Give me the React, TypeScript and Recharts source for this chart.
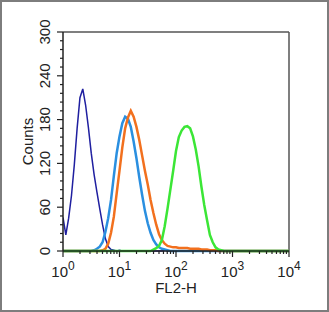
import { LineChart, Line, XAxis, YAxis, ReferenceLine } from "recharts";

const FONT = "'Liberation Sans', Arial, Helvetica, sans-serif";

// FL2-H channel centres (log spaced, 0.05 decade bins up to 10^3)
const channels = [
  1, 1.122, 1.259, 1.413, 1.585, 1.778, 1.995, 2.239, 2.512, 2.818,
  3.162, 3.548, 3.981, 4.467, 5.012, 5.623, 6.31, 7.079, 7.943, 8.913,
  10, 11.22, 12.59, 14.13, 15.85, 17.78, 19.95, 22.39, 25.12, 28.18,
  31.62, 35.48, 39.81, 44.67, 50.12, 56.23, 63.1, 70.79, 79.43, 89.13,
  100, 112.2, 125.9, 141.3, 158.5, 177.8, 199.5, 223.9, 251.2, 281.8,
  316.2, 354.8, 398.1, 446.7, 501.2, 562.3, 631, 707.9, 794.3, 891.3,
  1000, 3162, 10000,
];

const blankCounts = [
  46, 22, 45, 76, 118, 168, 210, 222, 200, 169,
  134, 105, 81, 58, 36, 17, 6, 2, 1, 0,
  1, 0, 0, 0, 0, 0, 0, 0, 0, 0,
  0, 0, 0, 0, 0, 0, 1, 0, 0, 0,
  0, 0, 0, 0, 0, 0, 0, 0, 0, 0,
  0, 0, 0, 0, 0, 0, 0, 0, 0, 0,
  0, 0, 0,
];

const isotypeCounts = [
  0, 0, 0, 0, 0, 0, 0, 0, 0, 0,
  0, 1, 3, 6, 12, 26, 45, 70, 103, 134,
  157, 175, 184, 181, 170, 150, 127, 101, 77, 55,
  38, 25, 15, 9, 5, 3, 2, 1, 0, 0,
  0, 0, 0, 0, 0, 0, 0, 0, 0, 0,
  0, 0, 0, 0, 0, 0, 0, 0, 0, 0,
  0, 0, 0,
];

const secondaryCounts = [
  0, 0, 0, 0, 0, 0, 0, 0, 0, 0,
  0, 0, 0, 0, 1, 3, 10, 25, 47, 79,
  110, 142, 168, 183, 192, 184, 170, 152, 131, 110,
  91, 70, 52, 36, 23, 15, 10, 7, 6, 5,
  5, 4, 4, 4, 4, 3, 3, 3, 3, 2,
  2, 2, 1, 1, 1, 0, 0, 0, 0, 0,
  0, 0, 0,
];

const antibodyCounts = [
  0, 0, 0, 0, 0, 0, 0, 0, 0, 0,
  0, 0, 0, 0, 0, 0, 0, 0, 0, 0,
  0, 0, 0, 0, 0, 0, 0, 0, 0, 0,
  0, 0, 2, 4, 7, 15, 34, 58, 84, 110,
  137, 156, 165, 170, 171, 168, 157, 139, 116, 88,
  63, 42, 22, 12, 5, 2, 1, 0, 0, 0,
  0, 0, 0,
];

const xTicks = [
  1, 2, 3, 4, 5, 6, 7, 8, 9,
  10, 20, 30, 40, 50, 60, 70, 80, 90,
  100, 200, 300, 400, 500, 600, 700, 800, 900,
  1000, 2000, 3000, 4000, 5000, 6000, 7000, 8000, 9000,
  10000,
];

const yTicks = [
  0, 12, 24, 36, 48, 60, 72, 84, 96, 108, 120, 132, 144,
  156, 168, 180, 192, 204, 216, 228, 240, 252, 264, 276, 288, 300,
];

const data = channels.map((channel, i) => ({
  channel,
  blank: blankCounts[i],
  isotype: isotypeCounts[i],
  secondary: secondaryCounts[i],
  antibody: antibodyCounts[i],
}));

function XTick(props: any) {
  const { x, y, payload } = props;
  const lg = Math.log10(payload.value);
  const exp = Math.round(lg);
  const major = Math.abs(lg - exp) < 1e-6;
  return (
    <g>
      <line x1={x} x2={x} y1={y} y2={y + (major ? 6 : 3)} stroke="#222" strokeWidth={1.2} />
      {major && (
        <text x={x} y={y + 26} textAnchor="middle" fontSize={15} fill="#222" fontFamily={FONT}>
          10
          <tspan fontSize={12} dy={-7}>
            {exp}
          </tspan>
        </text>
      )}
    </g>
  );
}

function YTick(props: any) {
  const { x, y, payload } = props;
  const v = payload.value;
  const major = v % 60 === 0;
  return (
    <g>
      <line x1={x - (major ? 6 : 3)} x2={x} y1={y} y2={y} stroke="#222" strokeWidth={1.2} />
      {major && (
        <text
          x={x - 13}
          y={y}
          transform={`rotate(-90 ${x - 13} ${y})`}
          textAnchor="middle"
          fontSize={15}
          fill="#222"
          fontFamily={FONT}
        >
          {v}
        </text>
      )}
    </g>
  );
}

export default function App() {
  return (
    <div style={{ position: "absolute", left: 0, top: 0, width: 329, height: 312, background: "#fff" }}>
      <LineChart
        width={329}
        height={312}
        data={data}
        margin={{ top: 32, right: 40, bottom: 16, left: 18 }}
      >
        <XAxis
          dataKey="channel"
          type="number"
          scale="log"
          domain={[1, 10000]}
          allowDataOverflow
          ticks={xTicks}
          interval={0}
          tick={<XTick />}
          tickLine={false}
          tickSize={0}
          tickMargin={0}
          height={45}
          stroke="#222"
          strokeWidth={1.5}
          label={{
            value: "FL2-H",
            position: "insideBottom",
            offset: 3,
            style: { fontSize: 15, fill: "#222", fontFamily: FONT },
          }}
        />
        <YAxis
          type="number"
          domain={[0, 300]}
          ticks={yTicks}
          interval={0}
          tick={<YTick />}
          tickLine={false}
          tickSize={0}
          tickMargin={0}
          width={45}
          stroke="#222"
          strokeWidth={1.5}
          label={{
            value: "Counts",
            angle: -90,
            position: "insideLeft",
            offset: 10,
            style: { textAnchor: "middle", fontSize: 15, fill: "#222", fontFamily: FONT },
          }}
        />
        <ReferenceLine y={300} stroke="#555" strokeWidth={1.5} />
        <ReferenceLine x={10000} stroke="#555" strokeWidth={1.5} />
        <Line
          dataKey="blank"
          type="linear"
          stroke="#1f1fa0"
          strokeWidth={1.5}
          dot={false}
          isAnimationActive={false}
        />
        <Line
          dataKey="isotype"
          type="linear"
          stroke="#2a8fe0"
          strokeWidth={2.5}
          dot={false}
          isAnimationActive={false}
        />
        <Line
          dataKey="secondary"
          type="linear"
          stroke="#f2701e"
          strokeWidth={2.5}
          dot={false}
          isAnimationActive={false}
        />
        <Line
          dataKey="antibody"
          type="linear"
          stroke="#3be636"
          strokeWidth={2.5}
          dot={false}
          isAnimationActive={false}
        />
      </LineChart>
      <div
        style={{
          position: "absolute",
          left: 0,
          top: 0,
          width: 329,
          height: 312,
          boxSizing: "border-box",
          border: "2px solid #7d7d7d",
          pointerEvents: "none",
        }}
      />
    </div>
  );
}
